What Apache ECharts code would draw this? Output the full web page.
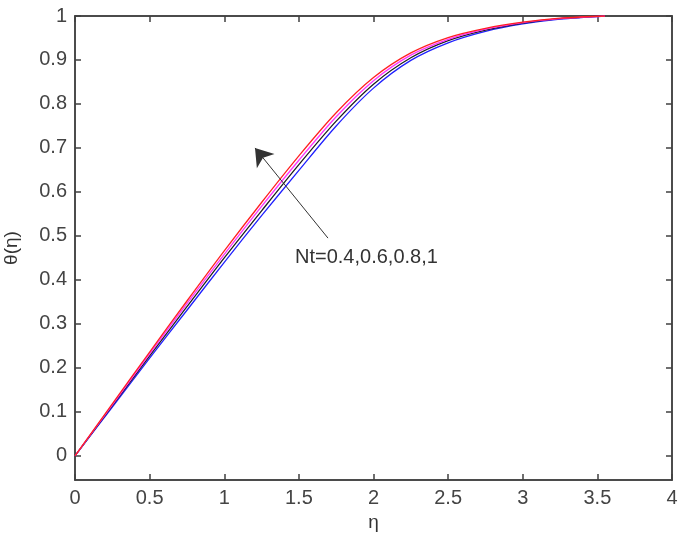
<!DOCTYPE html>
<html>
<head>
<meta charset="utf-8">
<script src="https://cdn.jsdelivr.net/npm/echarts@6/dist/echarts.min.js"></script>
<style>
  html, body { margin: 0; padding: 0; background: #fff; }
  #chart { width: 685px; height: 540px; }
</style>
</head>
<body>
<div id="chart"></div>
<script>
// eta grid and theta profiles
var eta   = [0, 0.25, 0.5, 0.75, 1.0, 1.25, 1.5, 1.75, 2.0, 2.25, 2.5, 2.75, 3.0, 3.25, 3.55];
var nt04  = [0, 0.111, 0.222, 0.331, 0.440, 0.546, 0.649, 0.750, 0.836, 0.899, 0.939, 0.965, 0.982, 0.993, 1.0];
var nt06  = [0, 0.114, 0.227, 0.339, 0.450, 0.557, 0.662, 0.761, 0.845, 0.905, 0.944, 0.968, 0.984, 0.994, 1.0];
var nt08  = [0, 0.116, 0.232, 0.346, 0.458, 0.567, 0.672, 0.771, 0.853, 0.911, 0.947, 0.970, 0.985, 0.994, 1.0];
var nt10  = [0, 0.118, 0.236, 0.352, 0.466, 0.576, 0.682, 0.780, 0.860, 0.916, 0.951, 0.972, 0.986, 0.995, 1.0];

var yTicks = [0, 0.1, 0.2, 0.3, 0.4, 0.5, 0.6, 0.7, 0.8, 0.9, 1];

// annotation: arrow tail / head and label anchor, in data units
var arrowTail = [1.695, 0.495];
var arrowHead = [1.206, 0.700];
var noteAt = [1.474, 0.452];
var noteText = 'Nt=0.4,0.6,0.8,1';

function pairs(ys) {
  return eta.map(function (x, i) { return [x, ys[i]]; });
}

var font = 'Liberation Sans, Arial, sans-serif';
var axisCol = '#404040';

function line(name, ys, color) {
  return {
    name: name,
    type: 'line',
    data: pairs(ys),
    smooth: 0.3,
    symbol: 'none',
    lineStyle: { color: color, width: 1.3 },
    xAxisIndex: 0,
    yAxisIndex: 0
  };
}

var series = [
  line('Nt=0.4', nt04, '#2020ff'),
  line('Nt=0.6', nt06, '#202020'),
  line('Nt=0.8', nt08, '#ff30ff'),
  line('Nt=1', nt10, '#ff2020')
];

// arrow + text hung on the last series
series[3].markLine = {
  silent: true,
  animation: false,
  symbol: ['none', 'arrow'],
  symbolSize: 17,
  lineStyle: { color: '#333', width: 1, type: 'solid' },
  itemStyle: { color: '#111' },
  label: { show: false },
  emphasis: { disabled: true },
  data: [[{ coord: arrowTail }, { coord: arrowHead }]]
};
series[3].markPoint = {
  silent: true,
  animation: false,
  symbol: 'circle',
  symbolSize: 0,
  data: [{ coord: noteAt }],
  label: {
    show: true,
    position: 'right',
    distance: 0,
    formatter: noteText,
    color: '#333',
    fontFamily: font,
    fontSize: 20
  }
};

var tickStyle = { color: axisCol, width: 1.5 };

var option = {
  animation: false,
  backgroundColor: '#fff',
  grid: {
    left: 75, right: 13, top: 16, bottom: 60,
    containLabel: false, outerBoundsMode: 'none',
    show: true, borderColor: axisCol, borderWidth: 1.5, backgroundColor: '#fff'
  },
  xAxis: [
    {
      type: 'value', min: 0, max: 4, interval: 0.5,
      name: 'η', nameLocation: 'middle', nameGap: 32,
      nameTextStyle: { color: '#333', fontFamily: font, fontSize: 19 },
      axisLine: { show: true, onZero: false, lineStyle: tickStyle },
      axisTick: { show: true, inside: true, length: 6, lineStyle: tickStyle },
      axisLabel: { color: '#444', fontFamily: font, fontSize: 20, margin: 8 },
      splitLine: { show: false }
    },
    {
      type: 'value', min: 0, max: 4, interval: 0.5, position: 'top',
      axisLine: { show: true, onZero: false, lineStyle: tickStyle },
      axisTick: { show: true, inside: true, length: 6, lineStyle: tickStyle },
      axisLabel: { show: false },
      splitLine: { show: false }
    }
  ],
  yAxis: [
    {
      type: 'value', min: -0.055, max: 1,
      name: 'θ(η)', nameLocation: 'middle', nameGap: 54,
      nameTextStyle: { color: '#333', fontFamily: font, fontSize: 19 },
      axisLine: { show: true, onZero: false, lineStyle: tickStyle },
      axisTick: { show: true, inside: true, length: 6, customValues: yTicks, lineStyle: tickStyle },
      axisLabel: { color: '#444', fontFamily: font, fontSize: 20, margin: 8, customValues: yTicks },
      splitLine: { show: false }
    },
    {
      type: 'value', min: -0.055, max: 1, position: 'right',
      axisLine: { show: true, onZero: false, lineStyle: tickStyle },
      axisTick: { show: true, inside: true, length: 6, customValues: yTicks, lineStyle: tickStyle },
      axisLabel: { show: false, customValues: yTicks },
      splitLine: { show: false }
    }
  ],
  series: series
};

var chart = echarts.init(document.getElementById('chart'), null, { renderer: 'canvas' });
chart.setOption(option);
</script>
</body>
</html>
